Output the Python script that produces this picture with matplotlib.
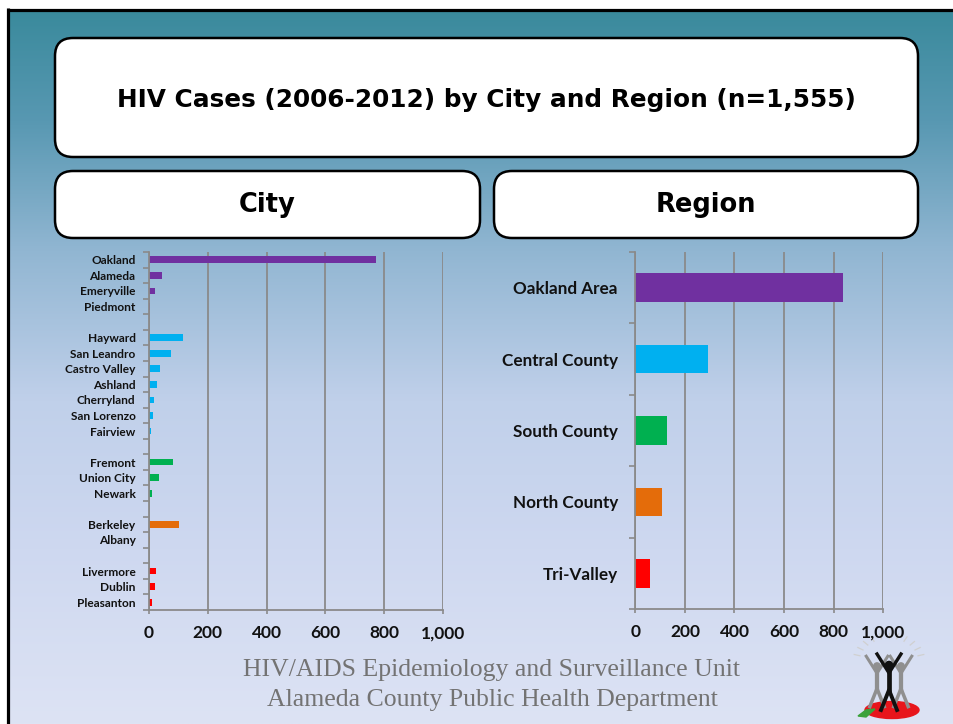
import numpy as np
import matplotlib
matplotlib.use("Agg")
import matplotlib.pyplot as plt
from matplotlib.patches import FancyBboxPatch, Ellipse, Polygon, Circle
from matplotlib.ticker import FuncFormatter, FixedLocator

# --- data ---
city_names = ["Oakland", "Alameda", "Emeryville", "Piedmont",
              "Hayward", "San Leandro", "Castro Valley", "Ashland", "Cherryland", "San Lorenzo", "Fairview",
              "Fremont", "Union City", "Newark",
              "Berkeley", "Albany",
              "Livermore", "Dublin", "Pleasanton"]
city_cases = [771, 45, 21, 4,
              116, 76, 38, 28, 18, 14, 7,
              82, 35, 11,
              103, 4,
              25, 21, 11]
city_group = [0, 0, 0, 0,
              1, 1, 1, 1, 1, 1, 1,
              2, 2, 2,
              3, 3,
              4, 4, 4]

regions = ["Oakland Area", "Central County", "South County", "North County", "Tri-Valley"]
region_cases = [837, 292, 127, 107, 59]
group_colors = ["#7030A0", "#00B0F0", "#00B050", "#E46C0A", "#FF0000"]

x_ticks = [0, 200, 400, 600, 800, 1000]

W, H = 954, 724
fig = plt.figure(figsize=(W / 100, H / 100), dpi=100, facecolor="white")

# --- slide background (pixel coordinates) ---
bg = fig.add_axes([0, 0, 1, 1])
bg.set_xlim(0, W)
bg.set_ylim(H, 0)
bg.axis("off")

stops_y = [10, 120, 250, 400, 550, 724]
stops_c = np.array([[58, 138, 156], [88, 152, 178], [145, 182, 210],
                    [192, 208, 234], [206, 216, 240], [221, 227, 244]]) / 255.0
ys = np.linspace(10, H, 300)
grad = np.stack([np.interp(ys, stops_y, stops_c[:, k]) for k in range(3)], axis=-1)
grad = np.repeat(grad[:, None, :], 2, axis=1)
bg.imshow(grad, extent=[9, W, H, 10], aspect="auto", interpolation="bilinear", zorder=0)
bg.plot([8.5, 8.5], [8, H], color="black", lw=2.3, zorder=1, solid_capstyle="butt")
bg.plot([7, W], [9.5, 9.5], color="black", lw=2.3, zorder=1, solid_capstyle="butt")


def header_box(x0, y0, x1, y1, text, size, dy=0):
    box = FancyBboxPatch((x0, y0), x1 - x0, y1 - y0,
                         boxstyle="round,pad=0,rounding_size=18",
                         facecolor="white", edgecolor="black", lw=1.8, zorder=2)
    bg.add_patch(box)
    bg.text((x0 + x1) / 2, (y0 + y1) / 2 + dy, text, ha="center", va="center",
            fontsize=size, fontweight="bold", family="DejaVu Sans", color="black", zorder=3)


header_box(55, 38, 918, 157, "HIV Cases (2006-2012) by City and Region (n=1,555)", 17.8, dy=3)
header_box(55, 171, 480, 238, "City", 18.5, dy=1)
header_box(494, 171, 918, 238, "Region", 18.5, dy=1)

# --- footer ---
bg.text(492, 670, "HIV/AIDS Epidemiology and Surveillance Unit", ha="center", va="center",
        fontsize=18.5, family="Liberation Serif", color="#737373", zorder=3)
bg.text(492, 700, "Alameda County Public Health Department", ha="center", va="center",
        fontsize=18.5, family="Liberation Serif", color="#737373", zorder=3)

# --- little logo ---
cx, cy = 889, 676
for ang in np.linspace(15, 165, 11):
    a = np.deg2rad(ang)
    bg.plot([cx + 30 * np.cos(a), cx + 36 * np.cos(a)], [cy - 14 - 24 * np.sin(a), cy - 14 - 29 * np.sin(a)],
            color="#d0d0d0", lw=0.9, zorder=3)
for dx, col, s in [(-12, "#8f8f8f", 0.9), (12, "#8f8f8f", 0.9), (0, "#111111", 1.0)]:
    x = cx + dx
    bg.add_patch(Circle((x, cy - 11 * s), 3.6 * s, color=col, zorder=4))
    bg.plot([x, x], [cy - 6 * s, cy + 14 * s], color=col, lw=3.4 * s, zorder=4)
    bg.plot([x - 12 * s, x, x + 12 * s], [cy - 22 * s, cy - 3 * s, cy - 22 * s], color=col, lw=2.4 * s, zorder=4)
    bg.plot([x - 8 * s, x, x + 8 * s], [cy + 34 * s, cy + 14 * s, cy + 34 * s], color=col, lw=2.8 * s, zorder=4)
bg.add_patch(Ellipse((892, 710), 54, 17, color="#e8151b", zorder=3.5))
bg.add_patch(Polygon([[858, 716], [866, 710], [875, 709], [866, 717]], closed=True,
                     color="#3aa23a", zorder=3.6))


def style_axes(ax, nrows):
    ax.set_facecolor("none")
    ax.set_xlim(0, 1000)
    ax.set_ylim(nrows - 0.5, -0.5)
    ax.xaxis.set_major_locator(FixedLocator(x_ticks))
    ax.xaxis.set_major_formatter(FuncFormatter(lambda v, p: f"{int(v):,}"))
    ax.grid(axis="x", color="#8a8a8a", lw=1.3, zorder=0)
    ax.set_axisbelow(True)
    for side in ["top", "right"]:
        ax.spines[side].set_visible(False)
    for side in ["left", "bottom"]:
        ax.spines[side].set_color("#8a8a8a")
        ax.spines[side].set_linewidth(1.3)
    ax.yaxis.set_major_locator(FixedLocator(np.arange(-0.5, nrows, 1.0)))
    ax.yaxis.set_major_formatter(FuncFormatter(lambda v, p: ""))
    ax.tick_params(axis="y", which="major", length=4, color="#8a8a8a", width=1.2)
    ax.tick_params(axis="x", length=3, color="#8a8a8a", width=1.2, pad=8,
                   labelsize=12.5, labelcolor="#111111")
    for lab in ax.get_xticklabels():
        lab.set_fontweight("bold")
        lab.set_family("Lato")


# --- City chart ---
pos = []
row = 0
for i, g in enumerate(city_group):
    if i > 0 and g != city_group[i - 1]:
        row += 1
    pos.append(row)
    row += 1
nrows_city = row

ax1 = fig.add_axes([148.7 / W, (H - 610) / H, (443.3 - 148.7) / W, (610 - 252) / H])
ax1.barh(pos, city_cases, height=0.43, color=[group_colors[g] for g in city_group], zorder=2)
style_axes(ax1, nrows_city)
ax1.yaxis.set_minor_locator(FixedLocator(pos))
ax1.set_yticks(pos, city_names, minor=True)
ax1.tick_params(axis="y", which="minor", length=0, pad=9.5, labelsize=8.6, labelcolor="#111111")
for lab in ax1.get_yticklabels(minor=True):
    lab.set_fontweight("bold")
    lab.set_family("Lato")

# --- Region chart ---
ax2 = fig.add_axes([635.3 / W, (H - 609) / H, (883.3 - 635.3) / W, (609 - 252) / H])
ax2.barh(range(len(regions)), region_cases, height=0.4, color=group_colors, zorder=2)
style_axes(ax2, len(regions))
ax2.yaxis.set_minor_locator(FixedLocator(range(len(regions))))
ax2.set_yticks(range(len(regions)), regions, minor=True)
ax2.tick_params(axis="y", which="minor", length=0, pad=12.5, labelsize=12.3, labelcolor="#111111")
for lab in ax2.get_yticklabels(minor=True):
    lab.set_fontweight("bold")
    lab.set_family("Lato")

fig.savefig("out.png", dpi=100, facecolor="white")
